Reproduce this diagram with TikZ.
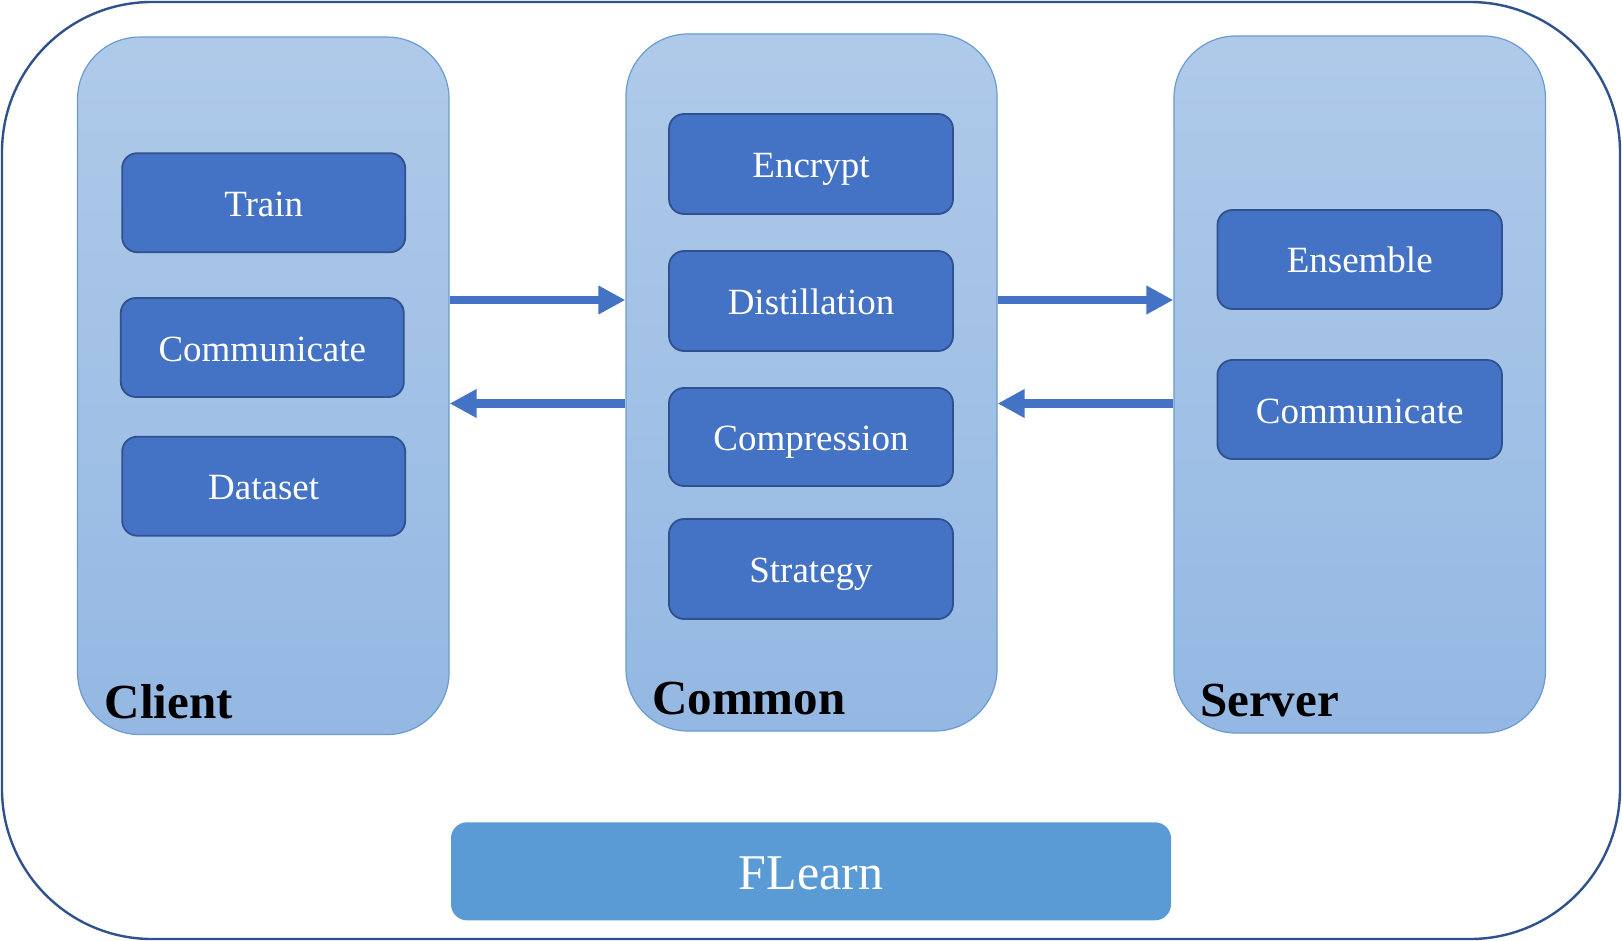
\documentclass[tikz,border=0pt]{standalone}
\usepackage{fontspec}
\setmainfont{Liberation Serif}
\usetikzlibrary{arrows.meta}
\definecolor{outerc}{HTML}{2F528F}
\definecolor{paneltop}{HTML}{AFCAE9}
\definecolor{panelbot}{HTML}{94B8E3}
\definecolor{panelline}{HTML}{6A9BD2}
\definecolor{boxfill}{HTML}{4472C4}
\definecolor{boxline}{HTML}{2F528F}
\definecolor{flfill}{HTML}{5B9BD5}
\tikzset{
  panel/.style={draw=panelline, line width=1.2pt, top color=paneltop, bottom color=panelbot,
    rounded corners=62pt, inner sep=0pt},
  modbox/.style={draw=boxline, fill=boxfill, line width=1.8pt, rounded corners=15pt,
    minimum width=283pt, minimum height=99pt, text=white, inner sep=0pt,
    text height=27pt, text depth=0pt,
    font=\fontsize{37}{44}\selectfont},
  plabel/.style={anchor=base west, inner sep=0pt, font=\bfseries\fontsize{49}{58}\selectfont},
  arr/.style={draw=boxfill, line width=8.5pt, -{Triangle[length=27pt,width=27pt]}, shorten >=0pt},
}
\begin{document}
\begin{tikzpicture}[x=1pt,y=-1pt]
\useasboundingbox (0,0) rectangle (1622,941);
\draw[outerc, line width=2.4pt, rounded corners=150pt] (2,2) rectangle (1620,939);
% panels
\node[panel, minimum width=371.5pt, minimum height=697.5pt] (client) at (263.3,385.8) {};
\node[panel, minimum width=371pt, minimum height=697pt] (common) at (811.5,382.5) {};
\node[panel, minimum width=371.5pt, minimum height=697pt] (server) at (1359.7,384.5) {};
% labels
\node[plabel] (clientlbl) at (104.5,718) {Client};
\node[plabel] (commonlbl) at (652,714) {Common};
\node[plabel] (serverlbl) at (1200,716) {Server};
% client modules
\node[modbox] (train) at (263.7,202.7) {Train};
\node[modbox] (ccomm) at (262.3,347.5) {Communicate};
\node[modbox] (dataset) at (263.7,486.2) {Dataset};
% common modules
\node[modbox, minimum width=284pt, minimum height=100pt] (encrypt) at (811,164) {Encrypt};
\node[modbox, minimum width=284pt, minimum height=100pt] (distill) at (811,301) {Distillation};
\node[modbox, minimum width=284pt, minimum height=98pt] (compress) at (811,437) {Compression};
\node[modbox, minimum width=284pt, minimum height=100pt] (strategy) at (811,569) {Strategy};
% server modules
\node[modbox, minimum width=284.5pt] (ensemble) at (1359.7,259.5) {Ensemble};
\node[modbox, minimum width=284.5pt] (scomm) at (1359.7,409.5) {Communicate};
% FLearn
\node[fill=flfill, rounded corners=16pt, minimum width=720pt, minimum height=98pt,
  text=white, inner sep=0pt, text height=36pt, text depth=0pt,
  font=\fontsize{50}{60}\selectfont] (flearn) at (811,871.3) {FLearn};
% arrows
\coordinate (ytop) at (0,300);
\coordinate (ybot) at (0,403.5);
\draw[arr] (client.east |- ytop) -- (common.west |- ytop);
\draw[arr] (common.west |- ybot) -- (client.east |- ybot);
\draw[arr] (common.east |- ytop) -- (server.west |- ytop);
\draw[arr] (server.west |- ybot) -- (common.east |- ybot);
\end{tikzpicture}
\end{document}
